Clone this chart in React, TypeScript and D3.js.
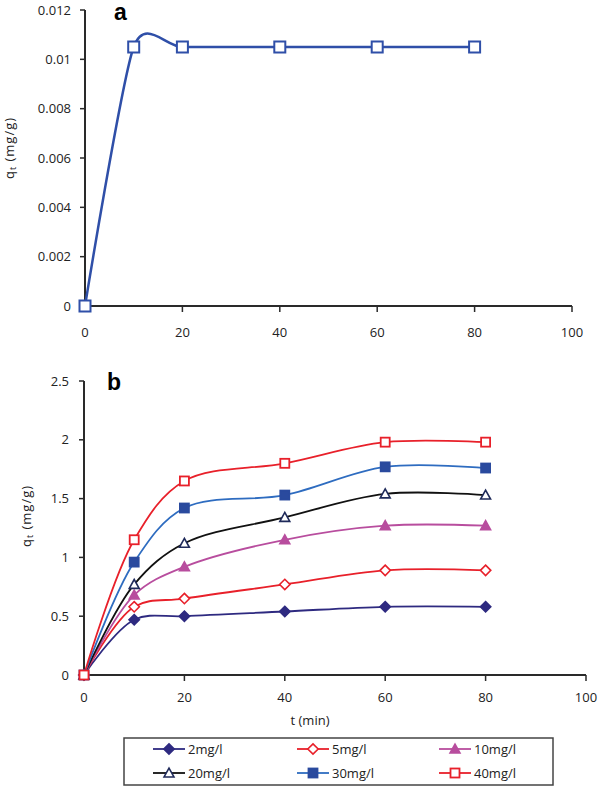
import React from "react";
import * as d3 from "d3";

const timesA = [0, 10, 20, 40, 60, 80];
const valuesA = [0, 0.0105, 0.0105, 0.0105, 0.0105, 0.0105];
const ticksAy = [0, 0.002, 0.004, 0.006, 0.008, 0.01, 0.012];
const ticksX = [0, 20, 40, 60, 80, 100];

const timesB = [0, 10, 20, 40, 60, 80];
const seriesNames = ["2mg/l", "5mg/l", "10mg/l", "20mg/l", "30mg/l", "40mg/l"];
const s2 = [0, 0.47, 0.5, 0.54, 0.58, 0.58];
const s5 = [0, 0.58, 0.65, 0.77, 0.89, 0.89];
const s10 = [0, 0.68, 0.92, 1.15, 1.27, 1.27];
const s20 = [0, 0.77, 1.12, 1.34, 1.54, 1.53];
const s30 = [0, 0.96, 1.42, 1.53, 1.77, 1.76];
const s40 = [0, 1.15, 1.65, 1.8, 1.98, 1.98];
const ticksBy = [0, 0.5, 1, 1.5, 2, 2.5];

type Style = { line: string; stroke: string; fill: string; shape: string };
const styles: Style[] = [
  { line: "#2e2a80", stroke: "#2e2a80", fill: "#2e2a80", shape: "diamond" },
  { line: "#e8202a", stroke: "#e8202a", fill: "#fff", shape: "diamond" },
  { line: "#b84d9e", stroke: "#b84d9e", fill: "#b84d9e", shape: "triangle" },
  { line: "#111111", stroke: "#1f2a5a", fill: "#fff", shape: "triangle" },
  { line: "#2e6cc0", stroke: "#2a4a9e", fill: "#2a4a9e", shape: "square" },
  { line: "#e8202a", stroke: "#e8202a", fill: "#fff", shape: "square" },
];
const seriesB = [s2, s5, s10, s20, s30, s40];

const FONT = "'Open Sans', 'Noto Sans', sans-serif";

function Marker({ x, y, st, size }: { x: number; y: number; st: Style; size: number }) {
  const h = size / 2;
  if (st.shape === "square") {
    return <rect x={x - h} y={y - h} width={size} height={size} fill={st.fill} stroke={st.stroke} strokeWidth={1.8} />;
  }
  if (st.shape === "diamond") {
    const d = h * 1.15;
    return <path d={`M${x},${y - d}L${x + d},${y}L${x},${y + d}L${x - d},${y}Z`} fill={st.fill} stroke={st.stroke} strokeWidth={1.6} />;
  }
  const t = h * 1.1;
  return <path d={`M${x},${y - t}L${x + t},${y + t * 0.8}L${x - t},${y + t * 0.8}Z`} fill={st.fill} stroke={st.stroke} strokeWidth={1.6} />;
}

function YLabel({ x, y }: { x: number; y: number }) {
  return (
    <text transform={`translate(${x},${y}) rotate(-90)`} textAnchor="middle" fontSize={13} letterSpacing={1} fill="#222">
      q<tspan fontSize={9} dy={2}>t</tspan>
      <tspan dy={-2}> (mg/g)</tspan>
    </text>
  );
}

export default function App() {
  const xA = d3.scaleLinear().domain([0, 100]).range([85, 572]);
  const yA = d3.scaleLinear().domain([0, 0.012]).range([306, 10]);
  const xB = d3.scaleLinear().domain([0, 100]).range([84, 586]);
  const yB = d3.scaleLinear().domain([0, 2.5]).range([675, 381]);

  const lineA = d3
    .line<number>()
    .x((_, i) => xA(timesA[i]))
    .y((d) => yA(d))
    .curve(d3.curveCardinal.tension(0.3));
  const lineB = d3
    .line<number>()
    .x((_, i) => xB(timesB[i]))
    .y((d) => yB(d))
    .curve(d3.curveCatmullRom.alpha(0.5));

  const axisColor = "#2a2a2a";
  const tickColor = "#222";

  const legendCols = [153, 297, 439];
  const legendRows = [749, 773];

  return (
    <svg width={600} height={786} style={{ position: "absolute", left: 0, top: 0, background: "#fff" }} fontFamily={FONT}>
      <rect width={600} height={786} fill="#fff" />
      {/* ===== Chart a ===== */}
      <line x1={xA(0)} x2={xA(0)} y1={yA(0.012)} y2={yA(0)} stroke={axisColor} strokeWidth={2} />
      <line x1={xA(0)} x2={xA(100)} y1={yA(0)} y2={yA(0)} stroke={axisColor} strokeWidth={2} />
      {ticksAy.map((t) => (
        <g key={"ay" + t}>
          <line x1={xA(0) - 5} x2={xA(0)} y1={yA(t)} y2={yA(t)} stroke={axisColor} strokeWidth={1.5} />
          <text x={71} y={yA(t)} dy="0.35em" textAnchor="end" fontSize={13} fill={tickColor}>
            {t === 0 ? "0" : String(+t.toFixed(3))}
          </text>
        </g>
      ))}
      {ticksX.map((t) => (
        <g key={"ax" + t}>
          <line x1={xA(t)} x2={xA(t)} y1={yA(0)} y2={yA(0) + 6} stroke={axisColor} strokeWidth={1.5} />
          <text x={xA(t)} y={yA(0) + 31} textAnchor="middle" fontSize={13} fill={tickColor}>
            {t}
          </text>
        </g>
      ))}
      <YLabel x={14} y={148} />
      <text x={114} y={20} fontSize={23} fontWeight="bold" fontFamily="'Liberation Sans', Arial, sans-serif" fill="#000">
        a
      </text>
      <path d={lineA(valuesA) || ""} fill="none" stroke="#2f4fa8" strokeWidth={2.5} />
      {valuesA.map((v, i) => (
        <rect key={"ma" + i} x={xA(timesA[i]) - 5.5} y={yA(v) - 5.5} width={11} height={11} fill="#fff" stroke="#2f4fa8" strokeWidth={2} />
      ))}

      {/* ===== Chart b ===== */}
      <line x1={xB(0)} x2={xB(0)} y1={yB(2.5)} y2={yB(0)} stroke={axisColor} strokeWidth={2} />
      <line x1={xB(0)} x2={xB(100)} y1={yB(0)} y2={yB(0)} stroke={axisColor} strokeWidth={2} />
      {ticksBy.map((t) => (
        <g key={"by" + t}>
          <line x1={xB(0) - 5} x2={xB(0)} y1={yB(t)} y2={yB(t)} stroke={axisColor} strokeWidth={1.5} />
          <text x={69} y={yB(t)} dy="0.35em" textAnchor="end" fontSize={13} fill={tickColor}>
            {String(t)}
          </text>
        </g>
      ))}
      {ticksX.map((t) => (
        <g key={"bx" + t}>
          <line x1={xB(t)} x2={xB(t)} y1={yB(0)} y2={yB(0) + 6} stroke={axisColor} strokeWidth={1.5} />
          <text x={xB(t)} y={yB(0) + 27} textAnchor="middle" fontSize={13} fill={tickColor}>
            {t}
          </text>
        </g>
      ))}
      <text x={310} y={725} textAnchor="middle" fontSize={13} fill={tickColor}>
        t (min)
      </text>
      <YLabel x={31} y={516} />
      <text x={107} y={390} fontSize={23} fontWeight="bold" fontFamily="'Liberation Sans', Arial, sans-serif" fill="#000">
        b
      </text>
      {seriesB.map((s, k) => (
        <path key={"lb" + k} d={lineB(s) || ""} fill="none" stroke={styles[k].line} strokeWidth={1.8} />
      ))}
      {seriesB.map((s, k) =>
        s.map((v, i) => <Marker key={`mb${k}-${i}`} x={xB(timesB[i])} y={yB(v)} st={styles[k]} size={9} />)
      )}

      {/* Legend */}
      <rect x={124} y={738} width={429} height={47} fill="#fff" stroke="#444" strokeWidth={1.5} />
      {seriesNames.map((n, k) => {
        const cx = legendCols[k % 3];
        const cy = legendRows[Math.floor(k / 3)];
        return (
          <g key={"lg" + k}>
            <line x1={cx} x2={cx + 32} y1={cy} y2={cy} stroke={styles[k].line} strokeWidth={1.8} />
            <Marker x={cx + 16} y={cy} st={styles[k]} size={9} />
            <text x={cx + 35} y={cy} dy="0.35em" fontSize={13} fill={tickColor}>
              {n}
            </text>
          </g>
        );
      })}
    </svg>
  );
}
